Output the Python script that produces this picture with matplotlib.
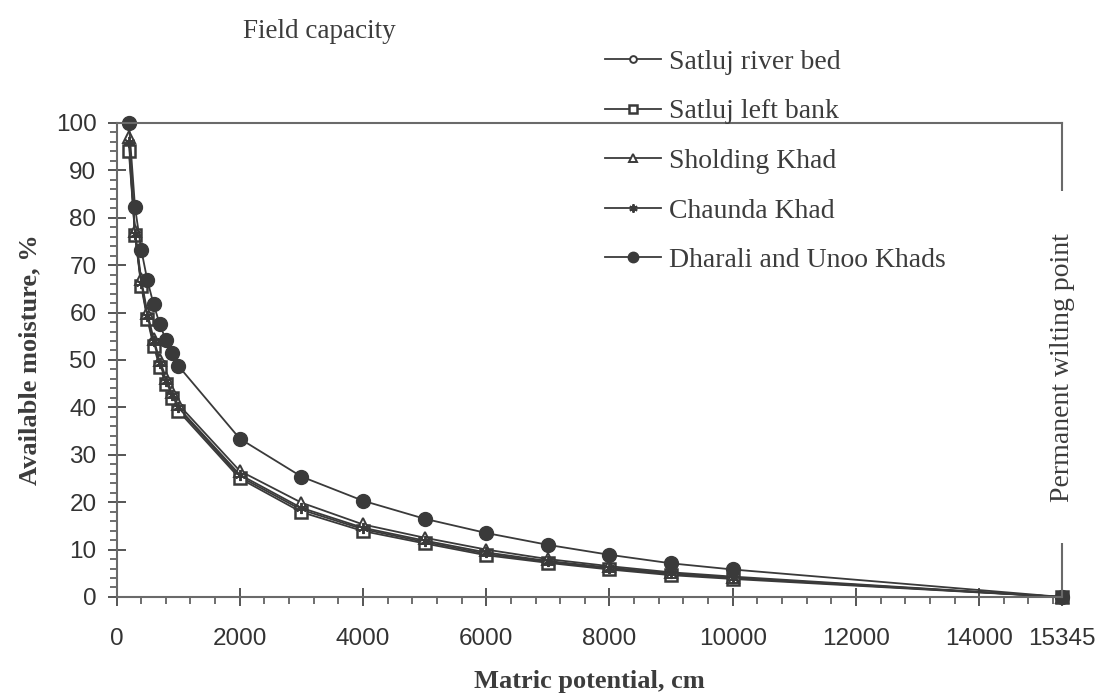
import numpy as np
import matplotlib.pyplot as plt
from matplotlib.ticker import MultipleLocator, FixedLocator

# matric potential, cm
potential = [200, 300, 400, 500, 600, 700, 800, 900, 1000,
             2000, 3000, 4000, 5000, 6000, 7000, 8000, 9000, 10000, 15345]

river_bed = [95, 76.5, 66.0, 59.0, 53.5, 49.0, 45.3, 42.3, 39.8,
             25.4, 18.4, 14.3, 11.6, 9.1, 7.4, 6.0, 4.8, 4.0, 0]
left_bank = [94, 76.3, 65.6, 58.6, 53.0, 48.6, 44.9, 41.9, 39.3,
             25.0, 17.9, 13.9, 11.3, 8.8, 7.2, 5.8, 4.6, 3.8, 0]
sholding = [97, 77.2, 67.0, 60.0, 54.5, 50.0, 46.3, 43.2, 40.7,
            26.6, 19.9, 15.3, 12.5, 10.0, 8.0, 6.5, 5.2, 4.3, 0]
chaunda = [96, 76.6, 66.3, 59.3, 54.0, 49.3, 45.6, 42.6, 40.0,
           25.8, 18.8, 14.6, 11.9, 9.4, 7.6, 6.2, 5.0, 4.1, 0]
dharali = [100, 82.2, 73.3, 66.8, 61.8, 57.6, 54.2, 51.4, 48.8,
           33.4, 25.4, 20.3, 16.5, 13.5, 11.0, 8.9, 7.1, 5.8, 0]

x_ticks = [0, 2000, 4000, 6000, 8000, 10000, 12000, 14000, 15345]

serif = ['Liberation Serif', 'DejaVu Serif']
sans = ['Liberation Sans', 'DejaVu Sans']
line_col = '#3a3a3a'
text_col = '#3c3c3c'

fig = plt.figure(figsize=(11.08, 6.94), dpi=100)
ax = fig.add_axes([0.1052, 0.1398, 0.8533, 0.683])

common = dict(color=line_col, lw=1.3, markeredgecolor=line_col, clip_on=False)
ax.plot(potential, river_bed, marker='o', ms=6.5, mfc='white', mew=1.4,
        label='Satluj river bed', **common)
ax.plot(potential, left_bank, marker='s', ms=8.5, mfc='white', mew=1.8,
        label='Satluj left bank', **common)
ax.plot(potential, sholding, marker='^', ms=8, mfc='white', mew=1.4,
        label='Sholding Khad', **common)
ax.plot(potential, chaunda, marker=(6, 2, 0), ms=8, mew=1.4,
        label='Chaunda Khad', **common)
ax.plot(potential, dharali, marker='o', ms=10, mfc=line_col,
        label='Dharali and Unoo Khads', **common)

ax.set_xlim(0, 15345)
ax.set_ylim(0, 100)
ax.xaxis.set_major_locator(FixedLocator(x_ticks))
ax.set_xticklabels([str(t) for t in x_ticks])
ax.xaxis.set_minor_locator(MultipleLocator(400))
ax.yaxis.set_major_locator(MultipleLocator(10))
ax.yaxis.set_minor_locator(MultipleLocator(2))

for s in ax.spines.values():
    s.set_color('#6a6a6a')
    s.set_linewidth(1.5)

ax.tick_params(which='major', direction='inout', length=13, width=1.4,
               color='#555555', labelsize=17.5, labelcolor='#333333')
ax.tick_params(which='minor', direction='out', length=5, width=1.2,
               color='#555555')
ax.tick_params(axis='x', which='major', pad=16)
ax.tick_params(axis='y', which='major', pad=8)
for lab in ax.get_xticklabels() + ax.get_yticklabels():
    lab.set_family(sans)

ax.set_xlabel('Matric potential, cm', family=serif, fontweight='bold',
              fontsize=19, color=text_col, labelpad=14)
ax.set_ylabel('Available moisture, %', family=serif, fontweight='bold',
              fontsize=19, color=text_col, labelpad=10)

ax.text(0.215, 1.194, 'Field capacity', transform=ax.transAxes,
        ha='center', va='center', family=serif, fontsize=19.5, color=text_col)

ax.text(1.001, 0.485, 'Permanent wilting point', transform=ax.transAxes,
        ha='center', va='center', rotation=90, family=serif, fontsize=20,
        color=text_col, zorder=5,
        bbox=dict(facecolor='white', edgecolor='none', pad=30))

ax.legend(loc='upper left', bbox_to_anchor=(0.546, 0.929),
          bbox_transform=fig.transFigure, frameon=False,
          prop={'family': serif, 'size': 20}, labelcolor=text_col,
          handlelength=2.0, handletextpad=0.3, labelspacing=0.87,
          borderpad=0, borderaxespad=0, markerscale=0.75)

fig.savefig('out.png', dpi=100)
